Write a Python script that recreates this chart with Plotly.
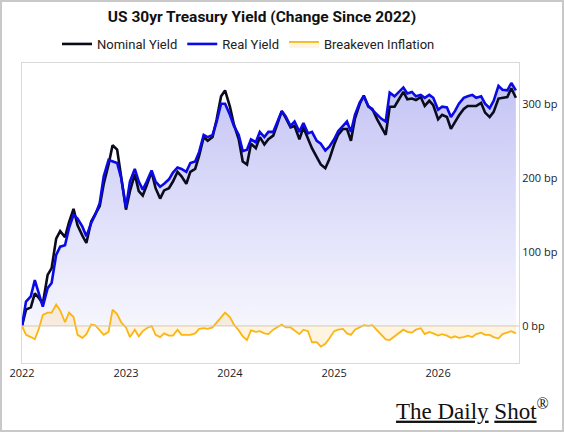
import pandas as pd
import plotly.graph_objects as go

# ---- data (bp change since Jan 2022, semi-monthly samples) ----
dates = pd.date_range("2022-01-01", periods=115, freq="SMS")

real_yield = [
    0, 33, 40, 62, 44, 26, 51, 58, 96, 107, 109, 132, 150, 145, 134, 121, 139, 150, 166, 202,
    224, 222, 220, 200, 160, 195, 212, 195, 184, 195, 210, 195, 188, 192, 198, 207, 214, 212, 208, 220,
    222, 235, 258, 255, 258, 275, 300, 300, 285, 270, 258, 236, 238, 252, 248, 262, 255, 262, 262, 275,
    290, 283, 270, 276, 262, 274, 260, 262, 250, 246, 237, 242, 252, 263, 270, 276, 262, 285, 302, 310,
    297, 292, 285, 280, 276, 315, 310, 316, 322, 314, 316, 310, 312, 308, 312, 308, 292, 296, 295, 282,
    290, 300, 308, 310, 312, 308, 310, 300, 294, 304, 324, 319, 318, 328, 318,
]

nominal_yield = [
    0, 22, 25, 44, 38, 30, 69, 78, 118, 128, 120, 140, 158, 136, 122, 112, 141, 151, 162, 192,
    218, 244, 238, 202, 157, 182, 205, 182, 176, 190, 208, 186, 172, 183, 186, 195, 208, 202, 192, 208,
    212, 230, 255, 250, 255, 278, 310, 318, 296, 272, 252, 222, 218, 246, 240, 255, 245, 252, 257, 272,
    290, 281, 268, 270, 252, 268, 253, 240, 228, 218, 213, 225, 245, 258, 266, 266, 250, 280, 300, 311,
    296, 293, 279, 269, 258, 296, 296, 305, 316, 306, 307, 305, 309, 297, 304, 298, 279, 285, 282, 266,
    276, 284, 293, 297, 297, 297, 301, 288, 282, 289, 307, 308, 309, 321, 308,
]

breakeven = [
    0, -12, -15, -18, -4, 15, 18, 18, 29, 21, 5, 18, 12, -12, -16, -11, 2, 1, -6, -12,
    -8, 22, 16, 5, -2, -15, -5, -14, -7, -3, 0, -12, -15, -10, -13, -13, -5, -12, -12, -12,
    -10, -4, -3, -4, -2, 4, 12, 18, 12, 2, -6, -14, -19, -6, -8, -7, -10, -11, -5, -2,
    2, -2, -2, -6, -11, -5, -7, -22, -22, -28, -24, -17, -7, -5, -4, -10, -12, -5, -2, 1,
    0, 1, -6, -11, -18, -19, -14, -11, -5, -8, -9, -5, -3, -11, -8, -10, -13, -11, -13, -16,
    -14, -16, -15, -13, -15, -11, -9, -12, -12, -15, -17, -11, -9, -7, -10,
]

y_ticks = [0, 100, 200, 300]
x_start, x_end = "2022-01-01", "2026-10-12"

# ---- figure ----
W, H = 564, 432
ML, MR, MT, MB = 22, 45, 63, 69
PW, PH = W - ML - MR, H - MT - MB


def px_x(px):
    return (px - ML) / PW


def px_y(py):
    return (H - MB - py) / PH


fig = go.Figure()

# gradient area under the real yield
fig.add_trace(go.Scatter(
    x=dates, y=real_yield, mode="lines", line=dict(width=0, color="rgba(0,0,0,0)"),
    fill="tozeroy",
    fillgradient=dict(type="vertical",
                      colorscale=[[0, "#f6f6fe"], [1, "#c4c4f5"]],
                      start=0, stop=330),
    showlegend=False, hoverinfo="skip",
))

fig.add_trace(go.Scatter(
    x=dates, y=nominal_yield, mode="lines", name="Nominal Yield",
    line=dict(color="#0b0b1e", width=2.6),
))
fig.add_trace(go.Scatter(
    x=dates, y=real_yield, mode="lines", name="Real Yield",
    line=dict(color="#0a0ae6", width=2.6),
))
fig.add_trace(go.Scatter(
    x=dates, y=breakeven, mode="lines", name="Breakeven Inflation",
    line=dict(color="#fbb514", width=1.8),
    fill="tozeroy", fillcolor="rgba(255,196,80,0.18)",
))

shapes = [
    dict(type="line", xref="paper", yref="y", x0=0, x1=1, y0=0, y1=0,
         line=dict(color="#d4c9b6", width=1), layer="above"),
    dict(type="rect", xref="paper", yref="paper",
         x0=px_x(1), x1=px_x(W - 1), y0=px_y(H - 1), y1=px_y(1),
         line=dict(color="#c8c8c8", width=2), layer="above"),
]

fig.update_layout(
    width=W, height=H,
    margin=dict(l=ML, r=MR, t=MT, b=MB, pad=0, autoexpand=False),
    paper_bgcolor="white", plot_bgcolor="white",
    title=dict(text="<b>US 30yr Treasury Yield (Change Since 2022)</b>",
               x=262 / W, xref="container", xanchor="center",
               y=1 - 17 / H, yref="container", yanchor="middle",
               font=dict(family="Roboto", size=15.5, color="#111")),
    legend=dict(orientation="h", x=px_x(57), xref="paper", xanchor="left",
                y=px_y(44), yref="paper", yanchor="middle",
                font=dict(family="Roboto", size=13, color="#222"),
                bgcolor="rgba(0,0,0,0)", itemwidth=30),
    xaxis=dict(type="date", range=[x_start, x_end], dtick="M12", tick0="2022-01-01",
               tickformat="%Y", showgrid=False, zeroline=False,
               showline=True, mirror=True, linecolor="#d9d9d9", linewidth=1,
               ticks="", tickfont=dict(family="Open Sans", size=11, color="#222")),
    yaxis=dict(range=[-50, 355], side="right", tickvals=y_ticks,
               ticktext=[f"{v} bp" for v in y_ticks],
               showgrid=False, zeroline=False,
               showline=True, mirror=True, linecolor="#d9d9d9", linewidth=1,
               ticks="", tickfont=dict(family="Open Sans", size=11, color="#222")),
    shapes=shapes,
    annotations=[dict(
        text="<u>The Daily</u> <u>Shot</u><sup>®</sup>", xref="paper", yref="paper",
        x=px_x(551), xanchor="right", y=px_y(409), yanchor="middle", showarrow=False,
        font=dict(family="Liberation Serif", size=23, color="#111"),
    )],
)

fig.write_html("out.html")
